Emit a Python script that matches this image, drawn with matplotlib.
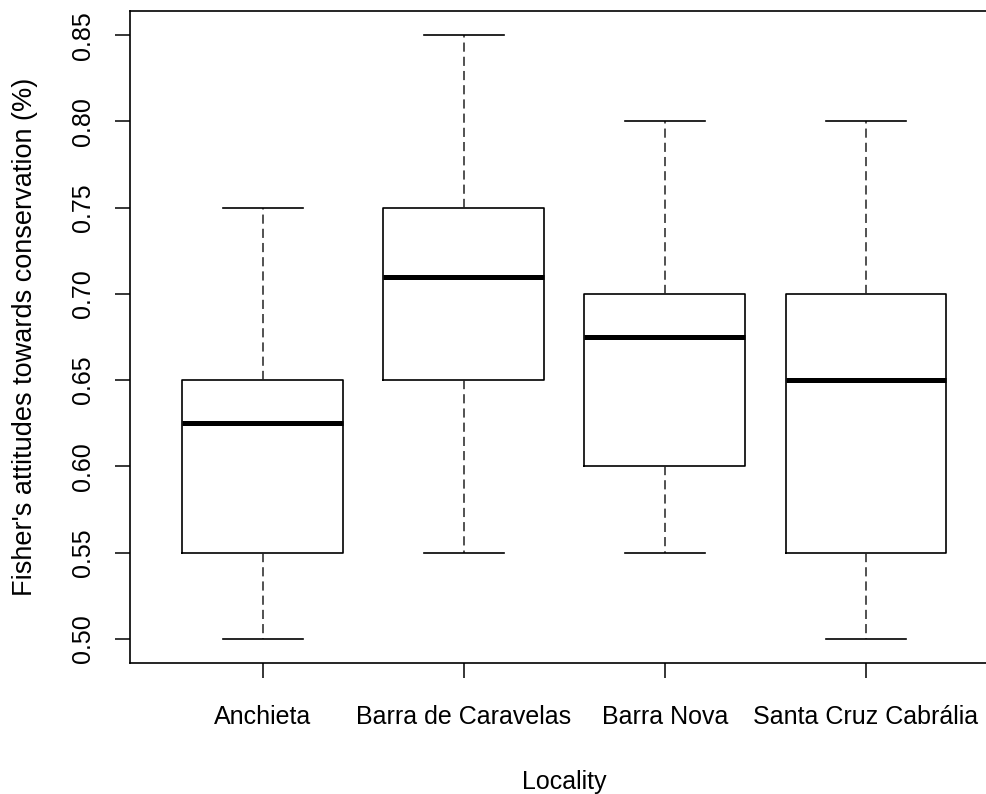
import matplotlib
matplotlib.use("Agg")
from matplotlib import pyplot as plt

plt.rcParams['font.family'] = ['Liberation Sans', 'DejaVu Sans']

localities = ["Anchieta", "Barra de Caravelas", "Barra Nova", "Santa Cruz Cabrália"]
whisker_low = [0.50, 0.55, 0.55, 0.50]
q1 = [0.55, 0.65, 0.60, 0.55]
medians = [0.625, 0.71, 0.675, 0.65]
q3 = [0.65, 0.75, 0.70, 0.70]
whisker_high = [0.75, 0.85, 0.80, 0.80]
yticks = [0.50, 0.55, 0.60, 0.65, 0.70, 0.75, 0.80, 0.85]

stats = []
for i in range(len(localities)):
    stats.append({"label": localities[i], "whislo": whisker_low[i], "q1": q1[i],
                  "med": medians[i], "q3": q3[i], "whishi": whisker_high[i], "fliers": []})

W, H = 987, 794
fig = plt.figure(figsize=(W / 100, H / 100), dpi=100)
ax = fig.add_axes([130 / W, 1 - 663 / H, (998.7 - 130) / W, (663 - 11) / H])

positions = list(range(1, len(localities) + 1))
ax.bxp(stats, positions=positions, widths=0.8, capwidths=0.4, showfliers=False,
       boxprops=dict(color="black", linewidth=1.2),
       whiskerprops=dict(color="#222222", linewidth=1.1, linestyle=(0, (6, 3.3))),
       capprops=dict(color="black", linewidth=1.2),
       medianprops=dict(color="black", linewidth=3.6, solid_capstyle="butt"))

ax.set_xlim(0.34, 4.66)
ax.set_ylim(0.486, 0.864)
ax.set_yticks(yticks)
ax.set_yticklabels([f"{v:.2f}" for v in yticks], rotation=90, va="center")
ax.set_xticks(positions)
ax.set_xticklabels(localities)
ax.tick_params(axis="both", direction="out", length=11, width=1.1, labelsize=18)
ax.tick_params(axis="y", pad=14)
ax.tick_params(axis="x", pad=19)
for s in ax.spines.values():
    s.set_linewidth(1.2)

ax.set_xlabel("Locality", fontsize=18, labelpad=30)
ax.set_ylabel("Fisher's attitudes towards conservation (%)", fontsize=19.5, labelpad=24)

fig.savefig("out.png", dpi=100)
